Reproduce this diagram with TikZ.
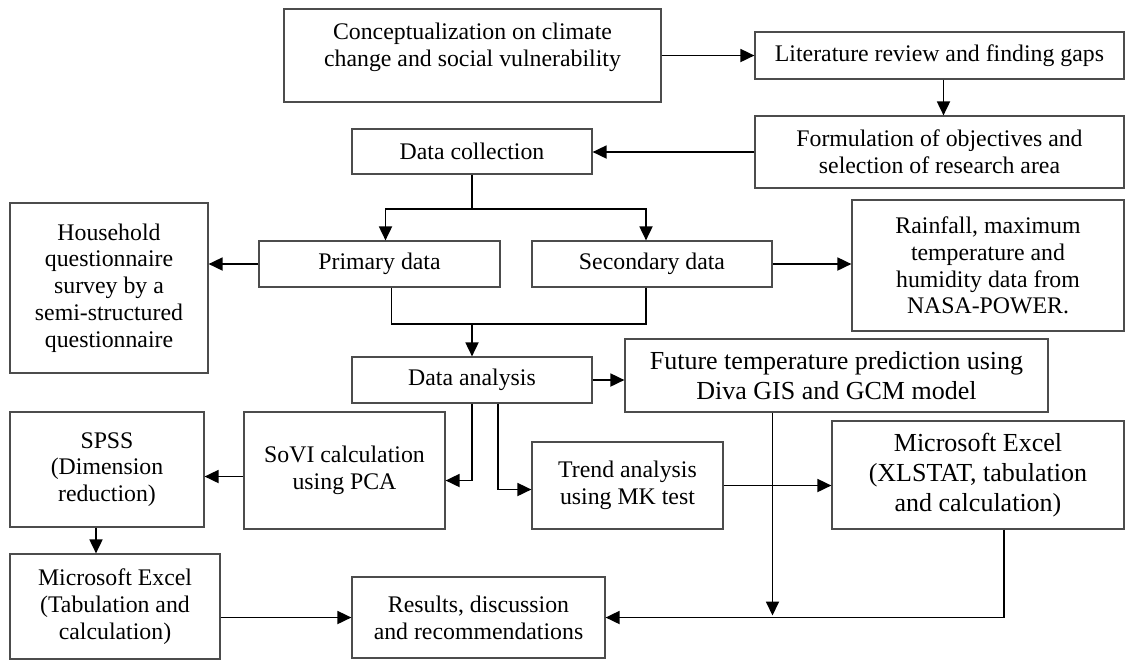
\documentclass[tikz,border=0pt]{standalone}
\usepackage{fontspec}
\setmainfont{Liberation Serif}
\usetikzlibrary{arrows.meta,calc}

\begin{document}
\begin{tikzpicture}[x=0.5pt,y=-0.5pt,
  box/.style={draw=black!70,line width=0.6pt,align=center,inner sep=2pt,
              font=\fontsize{11.9}{13.4}\selectfont},
  bigbox/.style={box,font=\fontsize{13}{14.8}\selectfont},
  arr/.style={-{Triangle[length=7pt,width=6.5pt]},line width=0.9pt},
  lin/.style={line width=0.9pt}]
  \useasboundingbox (0,0) rectangle (1126,661);
  % top row
  \node[box,minimum width=188.5pt,minimum height=46.5pt,text depth=11pt] (concept) at (472.5,55.5)
    {Conceptualization on climate\\change and social vulnerability};
  \node[box,minimum width=184.5pt,minimum height=23.5pt] (lit) at (939.5,55.5)
    {Literature review and finding gaps};
  \node[box,minimum width=184.5pt,minimum height=36pt] (form) at (939.5,152)
    {Formulation of objectives and\\selection of research area};
  \node[box,minimum width=120pt,minimum height=22.5pt] (dc) at (472,151.5) {Data collection};
  % data sources
  \node[box,minimum width=99pt,minimum height=85pt] (house) at (109,288)
    {Household\\questionnaire\\survey by a\\semi-structured\\questionnaire};
  \node[box,minimum width=120.5pt,minimum height=23pt] (prim) at (379.5,264) {Primary data};
  \node[box,minimum width=120pt,minimum height=23pt] (sec) at (652,264) {Secondary data};
  \node[box,minimum width=136pt,minimum height=65.5pt] (rain) at (988,265.5)
    {Rainfall, maximum\\temperature and\\humidity data from\\NASA-POWER.};
  % analysis
  \node[box,minimum width=120pt,minimum height=23pt] (da) at (472,380) {Data analysis};
  \node[bigbox,minimum width=211.5pt,minimum height=36.5pt] (fut) at (836.5,375.5)
    {Future temperature prediction using\\Diva GIS and GCM model};
  \node[box,minimum width=97pt,minimum height=57.5pt] (spss) at (107,469.5)
    {SPSS\\(Dimension\\reduction)};
  \node[box,minimum width=100.5pt,minimum height=58.5pt] (sovi) at (344.5,470.5)
    {SoVI calculation\\using PCA};
  \node[box,minimum width=95.5pt,minimum height=43.5pt] (trend) at (627.5,485.5)
    {Trend analysis\\using MK test};
  \node[bigbox,minimum width=146pt,minimum height=54pt] (xl2) at (978,475)
    {Microsoft Excel\\(XLSTAT, tabulation\\and calculation)};
  \node[box,minimum width=105pt,minimum height=52.5pt] (xl1) at (115,606.5)
    {Microsoft Excel\\(Tabulation and\\calculation)};
  \node[box,minimum width=126.5pt,minimum height=40.5pt] (res) at (478.5,617.5)
    {Results, discussion\\and recommendations};
  % junctions
  \coordinate (split) at (472,209);
  \coordinate (merge) at (472,324);
  % connectors
  \draw[arr] (concept.east) -- (lit.west);
  \draw[arr] ([xshift=2pt]lit.south) -- ([xshift=2pt]form.north);
  \draw[arr] (form.west) -- (form.west -| dc.east);
  \draw[lin] (dc.south) -- (split);
  \draw[arr] (split) -| ([xshift=3pt]prim.north);
  \draw[arr] (split) -| ([xshift=-3pt]sec.north);
  \draw[arr] (prim.west) -- (prim.west -| house.east);
  \draw[arr] (sec.east) -- (sec.east -| rain.west);
  \draw[lin] ([xshift=6pt]prim.south) |- (merge);
  \draw[lin] ([xshift=-3pt]sec.south) |- (merge);
  \draw[arr] (merge) -- (da.north);
  \draw[arr] (da.east) -- (da.east -| fut.west);
  \draw[arr] (da.south) |- ([yshift=-5pt]sovi.east);
  \draw[arr] ([xshift=13pt]da.south) |- ([yshift=-2pt]trend.west);
  \draw[arr] ([yshift=-3pt]sovi.west) -- ([yshift=-3pt]sovi.west -| spss.east);
  \draw[arr] ([xshift=-5.5pt]spss.south) -- ([xshift=-5.5pt]spss.south |- xl1.north);
  \draw[arr] (res.west -| xl1.east) -- (res.west);
  \draw[arr] (trend.east) -- (trend.east -| xl2.west);
  \draw[arr] ([xshift=-32pt]fut.south) -- ([xshift=-32pt,yshift=1pt]fut.south |- res.east);
  \draw[arr] ([xshift=13pt]xl2.south) |- (res.east);
\end{tikzpicture}
\end{document}
